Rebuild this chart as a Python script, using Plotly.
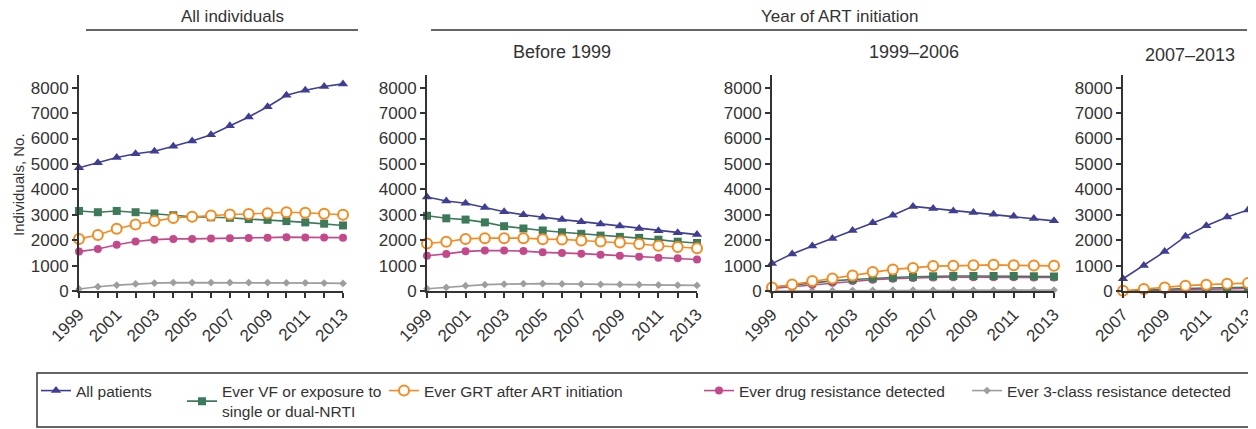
import plotly.graph_objects as go

# ---------------- data ----------------
years = [1999, 2000, 2001, 2002, 2003, 2004, 2005, 2006, 2007, 2008, 2009, 2010, 2011, 2012, 2013]
years_late = [2007, 2008, 2009, 2010, 2011, 2012, 2013]

series_names = [
    "All patients",
    "Ever VF or exposure to<br>single or dual-NRTI",
    "Ever GRT after ART initiation",
    "Ever drug resistance detected",
    "Ever 3-class resistance detected",
]

# All individuals
all_patients = [4850, 5050, 5250, 5400, 5500, 5700, 5900, 6150, 6500, 6850, 7250, 7700, 7900, 8050, 8150]
all_vf = [3150, 3100, 3150, 3100, 3050, 2980, 2920, 2900, 2880, 2830, 2800, 2750, 2700, 2650, 2580]
all_grt = [2050, 2200, 2450, 2620, 2750, 2870, 2920, 2970, 3010, 3030, 3060, 3100, 3080, 3040, 3000]
all_dr = [1550, 1650, 1820, 1950, 2020, 2050, 2050, 2070, 2080, 2090, 2100, 2120, 2110, 2110, 2100]
all_3c = [80, 170, 230, 280, 310, 330, 330, 330, 330, 330, 330, 320, 320, 310, 300]

# Before 1999
b99_patients = [3700, 3540, 3450, 3290, 3120, 3000, 2900, 2810, 2730, 2640, 2560, 2460, 2370, 2290, 2220]
b99_vf = [2960, 2860, 2810, 2700, 2550, 2460, 2380, 2310, 2250, 2180, 2130, 2090, 2020, 1940, 1890]
b99_grt = [1870, 1940, 2050, 2080, 2080, 2080, 2040, 2030, 1990, 1950, 1910, 1850, 1780, 1730, 1680]
b99_dr = [1390, 1460, 1560, 1590, 1590, 1570, 1520, 1500, 1470, 1430, 1390, 1350, 1310, 1290, 1240]
b99_3c = [90, 140, 210, 250, 270, 290, 290, 280, 270, 260, 260, 250, 240, 230, 220]

# 1999-2006
mid_patients = [1080, 1460, 1770, 2070, 2380, 2690, 2980, 3330, 3250, 3150, 3090, 3020, 2940, 2850, 2760]
mid_vf = [150, 230, 330, 400, 450, 500, 530, 560, 580, 590, 590, 590, 590, 580, 570]
mid_grt = [140, 260, 390, 490, 610, 750, 850, 910, 980, 990, 1010, 1030, 1010, 1000, 990]
mid_dr = [100, 170, 250, 320, 390, 440, 480, 510, 530, 540, 540, 540, 540, 530, 530]
mid_3c = [0, 5, 10, 15, 20, 25, 30, 30, 35, 35, 35, 35, 35, 35, 35]

# 2007-2013
late_patients = [480, 1000, 1550, 2150, 2570, 2910, 3190]
late_vf = [0, 40, 70, 100, 120, 140, 150]
late_grt = [10, 80, 140, 210, 250, 290, 310]
late_dr = [0, 20, 40, 60, 80, 90, 100]
late_3c = [0, 0, 5, 5, 10, 10, 10]

y_ticks = [0, 1000, 2000, 3000, 4000, 5000, 6000, 7000, 8000]

# ---------------- styling ----------------
C_PAT = "#3f3e94"
C_VF = "#3c7a5a"
C_GRT = "#f58a1f"
C_DR = "#c4498b"
C_3C = "#9e9e9e"
AX = "#333333"
FONT = "Liberation Sans, Arial, sans-serif"

styles = [
    dict(color=C_PAT, marker=dict(symbol="triangle-up", size=9, color=C_PAT)),
    dict(color=C_VF, marker=dict(symbol="square", size=8, color=C_VF)),
    dict(color=C_GRT, marker=dict(symbol="circle", size=10, color="white", line=dict(color=C_GRT, width=2))),
    dict(color=C_DR, marker=dict(symbol="circle", size=8, color=C_DR)),
    dict(color=C_3C, marker=dict(symbol="diamond", size=6, color=C_3C)),
]

panels = [
    (years, [all_patients, all_vf, all_grt, all_dr, all_3c]),
    (years, [b99_patients, b99_vf, b99_grt, b99_dr, b99_3c]),
    (years, [mid_patients, mid_vf, mid_grt, mid_dr, mid_3c]),
    (years_late, [late_patients, late_vf, late_grt, late_dr, late_3c]),
]

# page offset (browser body margin) and figure size
OFF = 8
WF, HF = 1256 - OFF, 429 - OFF


def X(px):
    return (px - OFF) / WF


def Y(py):
    return 1 - (py - OFF) / HF


x_px = [(79, 343), (427, 697), (772, 1054), (1123, 1248)]
y_dom = [Y(291), Y(75)]

fig = go.Figure()

draw_order = [4, 3, 1, 2, 0]
for p, (xs, ser) in enumerate(panels):
    ax = "" if p == 0 else str(p + 1)
    for i in draw_order:
        st = styles[i]
        fig.add_trace(go.Scatter(
            x=xs, y=ser[i], mode="lines+markers",
            name=series_names[i],
            line=dict(color=st["color"], width=1.6),
            marker=st["marker"],
            cliponaxis=False,
            xaxis="x" + ax, yaxis="y" + ax,
            showlegend=(p == 0),
            legend="legend" if i == 0 else "legend" + str(i + 1),
        ))

layout = dict(
    width=WF, height=HF,
    margin=dict(l=0, r=0, t=0, b=0, autoexpand=False),
    paper_bgcolor="white", plot_bgcolor="white",
    font=dict(family=FONT, color=AX),
)

for p, (xs, ser) in enumerate(panels):
    ax = "" if p == 0 else str(p + 1)
    x0, x1 = x_px[p]
    ticktext = [str(y) if (y - xs[0]) % 2 == 0 else "" for y in xs]
    layout["xaxis" + ax] = dict(
        domain=[X(x0), X(x1)], range=[xs[0], xs[-1]], anchor="y" + ax,
        tickmode="array", tickvals=xs, ticktext=ticktext, tickangle=-45,
        ticks="outside", ticklen=5, tickwidth=1.5, tickcolor=AX,
        showline=True, linecolor=AX, linewidth=2,
        showgrid=False, zeroline=False, fixedrange=True,
        ticklabeloverflow="allow",
        tickfont=dict(size=17, color=AX, family=FONT),
    )
    layout["yaxis" + ax] = dict(
        domain=y_dom, range=[0, 8500], anchor="x" + ax,
        tickmode="array", tickvals=y_ticks,
        ticks="outside", ticklen=5, tickwidth=1.5, tickcolor=AX,
        showline=True, linecolor=AX, linewidth=2,
        showgrid=False, zeroline=False, fixedrange=True,
        tickfont=dict(size=17, color=AX, family=FONT),
    )

# legends, one per series, placed along the bottom box
leg_text_x = [77, 223, 425, 740, 1008]
leg_center_y = [391, 401.5, 391, 391, 391]
for i in range(5):
    key = "legend" if i == 0 else "legend" + str(i + 1)
    layout[key] = dict(
        x=X(leg_text_x[i] - 41), xanchor="left",
        y=Y(leg_center_y[i]), yanchor="middle",
        bgcolor="rgba(0,0,0,0)", borderwidth=0,
        font=dict(size=15.5, color=AX, family=FONT),
        orientation="v",
    )

layout["shapes"] = [
    dict(type="line", xref="paper", yref="paper", x0=X(86), x1=X(358), y0=Y(30), y1=Y(30),
         line=dict(color=AX, width=1.5)),
    dict(type="line", xref="paper", yref="paper", x0=X(431), x1=X(1247), y0=Y(30), y1=Y(30),
         line=dict(color=AX, width=1.5)),
    dict(type="rect", xref="paper", yref="paper", x0=X(37), x1=X(1252), y0=Y(427), y1=Y(373),
         line=dict(color=AX, width=1.5), fillcolor="rgba(0,0,0,0)"),
]


def ann(text, x, y, size, angle=0):
    return dict(text=text, x=X(x), y=Y(y), xref="paper", yref="paper",
                showarrow=False, xanchor="center", yanchor="middle", textangle=angle,
                font=dict(size=size, color=AX, family=FONT))


layout["annotations"] = [
    ann("All individuals", 232, 17, 17),
    ann("Year of ART initiation", 840, 17, 17),
    ann("Before 1999", 562, 52, 18),
    ann("1999–2006", 914, 52, 18),
    ann("2007–2013", 1190, 55, 18),
    ann("Individuals, No.", 18, 185, 15, -90),
]

fig.update_layout(**layout)
fig.write_html("out.html")
